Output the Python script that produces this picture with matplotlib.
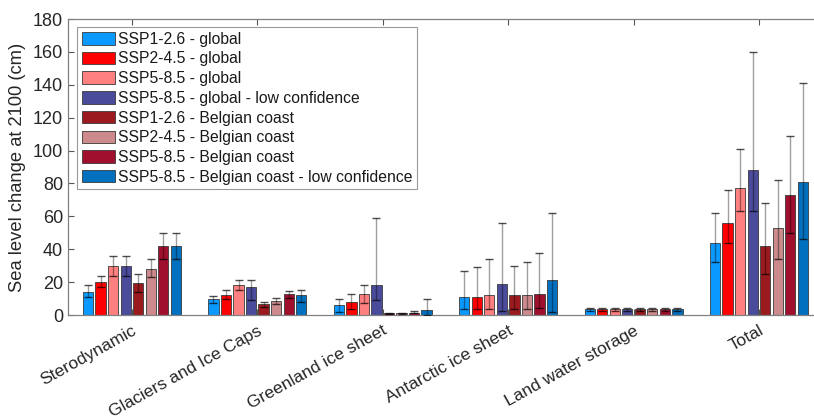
import numpy as np
import matplotlib
matplotlib.use("Agg")
import matplotlib.pyplot as plt
from matplotlib.transforms import ScaledTranslation, blended_transform_factory

plt.rcParams['font.family'] = ['Liberation Sans', 'DejaVu Sans']

categories = ["Sterodynamic", "Glaciers and Ice Caps", "Greenland ice sheet",
              "Antarctic ice sheet", "Land water storage", "Total"]
series = ["SSP1-2.6 - global", "SSP2-4.5 - global", "SSP5-8.5 - global",
          "SSP5-8.5 - global - low confidence", "SSP1-2.6 - Belgian coast",
          "SSP2-4.5 - Belgian coast", "SSP5-8.5 - Belgian coast",
          "SSP5-8.5 - Belgian coast - low confidence"]
colors = ["#0a99ff", "#ff0000", "#ff8080", "#4b4b9b",
          "#9b1a1f", "#cc8a8c", "#a0102e", "#0070bf"]

# median values per category (rows) and series (columns)
sterodynamic = [14, 20, 30, 30, 19.5, 28, 42, 42]
glaciers     = [9.5, 12, 18, 17, 6.5, 8.5, 12.5, 12]
greenland    = [6, 8, 13, 18, 1, 1, 1.5, 2.8]
antarctic    = [11, 11, 12, 19, 12, 12, 13, 21]
landwater    = [3.5, 3.5, 3.5, 3.5, 3.5, 3.5, 3.5, 3.5]
total        = [44, 56, 77, 88, 42, 53, 73, 81]

sterodynamic_lo = [11, 17, 24, 24, 14, 23, 34, 34]
glaciers_lo     = [7.5, 9.5, 15, 9, 5, 6.5, 10.5, 8]
greenland_lo    = [2, 3.5, 7, 9, 0.5, 0.5, 1, 0.3]
antarctic_lo    = [3.5, 3.5, 3.5, 2.5, 3.5, 3.5, 4, 2]
landwater_lo    = [2.5, 2.5, 2.5, 2.5, 2.5, 2.5, 2.5, 2.5]
total_lo        = [32, 44, 63, 63, 25, 34, 50, 46]

sterodynamic_hi = [18, 24, 36, 36, 25, 34, 50, 50]
glaciers_hi     = [11.5, 15.5, 21, 21, 8, 10.5, 14.5, 15]
greenland_hi    = [10, 13, 18, 59, 1.5, 1.5, 2.2, 9.5]
antarctic_hi    = [27, 29, 34, 56, 30, 32, 37.5, 62]
landwater_hi    = [4.3, 4.3, 4.3, 4.3, 4.3, 4.3, 4.3, 4.3]
total_hi        = [62, 76, 101, 160, 68, 82, 109, 141]

med = np.array([sterodynamic, glaciers, greenland, antarctic, landwater, total])
lo = np.array([sterodynamic_lo, glaciers_lo, greenland_lo, antarctic_lo, landwater_lo, total_lo])
hi = np.array([sterodynamic_hi, glaciers_hi, greenland_hi, antarctic_hi, landwater_hi, total_hi])

fig = plt.figure(figsize=(8.14, 4.19), dpi=100)
ax = fig.add_axes([68/814, 104/419, 754/814, 296/419])

x = np.arange(1, len(categories) + 1)
pitch = 0.1
width = 0.082
n = len(series)
for i in range(n):
    xi = x + (i - (n - 1) / 2) * pitch
    ax.bar(xi, med[:, i], width=width, color=colors[i], edgecolor="#3a3a3a",
           linewidth=0.6, label=series[i], zorder=2)
    eb = ax.errorbar(xi, med[:, i], yerr=[med[:, i] - lo[:, i], hi[:, i] - med[:, i]],
                     fmt="none", ecolor="black", elinewidth=1.0, capsize=3.2,
                     capthick=1.0, zorder=3)
    for c in eb[1]:
        c.set_alpha(0.7)
    for b in eb[2]:
        b.set_alpha(0.38)

ax.set_xlim(0.49, 6.503)
ax.set_ylim(0, 180)
ax.set_yticks(np.arange(0, 181, 20))
ax.set_xticks(x)
ax.set_xticklabels([])
trans = blended_transform_factory(ax.transData, ax.transAxes) + \
    ScaledTranslation(7/100, -8/100, fig.dpi_scale_trans)
for xc, name in zip(x, categories):
    ax.text(xc, 0, name, transform=trans, rotation=29, ha="right", va="top",
            fontsize=12.6, color="#262626", clip_on=False)

ax.tick_params(axis="x", direction="in", length=4, top=True, color="#555555")
ax.tick_params(axis="y", direction="in", length=4, right=True, labelsize=13,
               labelcolor="#262626", color="#555555")
for s in ax.spines.values():
    s.set_color("#808080")
    s.set_linewidth(0.9)

ax.set_ylabel("Sea level change at 2100 (cm)", fontsize=13.2, color="#262626", labelpad=5)

leg = ax.legend(loc="upper left", bbox_to_anchor=(0.012, 0.973), borderaxespad=0,
                fontsize=11.3, frameon=True, fancybox=False, framealpha=1,
                edgecolor="#9a9a9a", handlelength=2.1, handleheight=0.85,
                handletextpad=0.2, labelspacing=0.3, borderpad=0.3)
leg.get_frame().set_linewidth(0.8)
for t in leg.get_texts():
    t.set_color("#1a1a1a")

fig.savefig("out.png", dpi=100)
